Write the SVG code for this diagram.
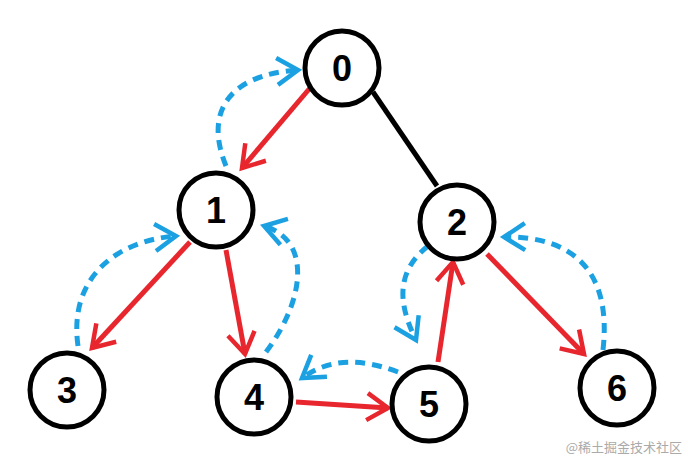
<svg xmlns="http://www.w3.org/2000/svg" width="688" height="462" viewBox="0 0 688 462">
<style>
.n circle{fill:#fff;stroke:#000;stroke-width:5}
.n text{font-family:"Liberation Sans",Arial,sans-serif;font-size:36px;font-weight:bold;text-anchor:middle;dominant-baseline:central}
.r{stroke:#e8262e;stroke-width:5;fill:none;marker-end:url(#ar)}
.b{stroke:#1ba1e2;stroke-width:5;fill:none;stroke-dasharray:10 7;marker-end:url(#ab)}
</style>
<defs>
<marker id="ar" viewBox="0 0 20 20" refX="18" refY="10" markerWidth="15" markerHeight="15" markerUnits="userSpaceOnUse" orient="auto" overflow="visible"><path d="M-10,-8 L18,10 L-10,28" fill="none" stroke="#e8262e" stroke-width="6"/></marker>
<marker id="ab" viewBox="0 0 20 20" refX="18" refY="10" markerWidth="15" markerHeight="15" markerUnits="userSpaceOnUse" orient="auto" overflow="visible"><path d="M-10,-8 L18,10 L-10,28" fill="none" stroke="#1ba1e2" stroke-width="6"/></marker>
</defs>
<g id="connectors">
<line x1="373" y1="92" x2="437" y2="186" stroke="#000" stroke-width="5"/>
<path class="r" d="M310,88 L242,168"/>
<path class="r" d="M190,242 L92,348"/>
<path class="r" d="M226,250 L245,354"/>
<path class="r" d="M296,402 L388,408"/>
<path class="r" d="M438,362 L453,262"/>
<path class="r" d="M487,254 L584,354"/>
<path class="b" d="M226,166 C205,115 225,75 298,70"/>
<path class="b" d="M78,346 C68,275 120,240 176,236"/>
<path class="b" d="M266,352 C305,300 312,240 264,226"/>
<path class="b" d="M398,372 C360,358 330,358 302,378"/>
<path class="b" d="M428,246 C398,270 396,300 416,340"/>
<path class="b" d="M603,350 C612,270 572,236 504,237"/>
</g>
<g id="node0" class="n"><circle cx="342" cy="68" r="37"/><text x="342" y="68">0</text></g>
<g id="node1" class="n"><circle cx="216" cy="210" r="37"/><text x="216" y="210">1</text></g>
<g id="node2" class="n"><circle cx="457" cy="222" r="37"/><text x="457" y="222">2</text></g>
<g id="node3" class="n"><circle cx="67" cy="390" r="37"/><text x="67" y="390">3</text></g>
<g id="node4" class="n"><circle cx="254" cy="397" r="37"/><text x="254" y="397">4</text></g>
<g id="node5" class="n"><circle cx="429" cy="404" r="37"/><text x="429" y="404">5</text></g>
<g id="node6" class="n"><circle cx="617" cy="388" r="37"/><text x="617" y="388">6</text></g>
<text x="682" y="452" font-family="'Noto Sans CJK SC',sans-serif" font-size="13" fill="#aaa" text-anchor="end">@稀土掘金技术社区</text>
</svg>
